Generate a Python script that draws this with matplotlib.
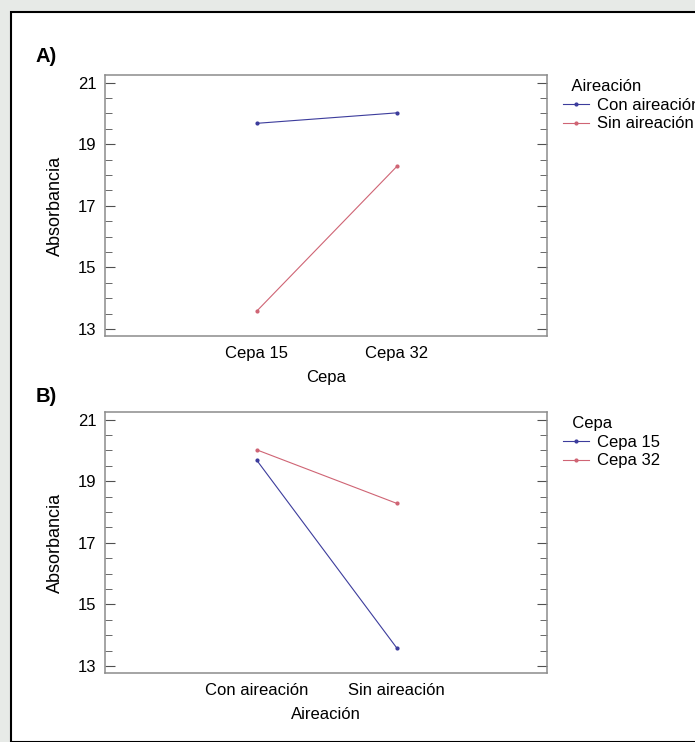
import matplotlib
matplotlib.use("Agg")
import matplotlib.pyplot as plt
from matplotlib.patches import Rectangle
from matplotlib.ticker import FixedLocator, MultipleLocator

plt.rcParams['font.family'] = ['Liberation Sans', 'DejaVu Sans']

# Mean absorbance for each combination of strain and aeration
cepas = ['Cepa 15', 'Cepa 32']
aireacion = ['Con aireación', 'Sin aireación']
con_aireacion = [19.68, 20.02]   # Cepa 15, Cepa 32
sin_aireacion = [13.58, 18.28]   # Cepa 15, Cepa 32
cepa_15 = [con_aireacion[0], sin_aireacion[0]]
cepa_32 = [con_aireacion[1], sin_aireacion[1]]
y_ticks = [13, 15, 17, 19, 21]

BLUE = '#3c3c9c'
RED = '#cf6474'
SPINE = '#8c8c8c'
FS = 12
W, H = 695, 742

fig = plt.figure(figsize=(W / 100, H / 100), dpi=100)
fig.patch.set_facecolor('#e7eae7')

# white page with a black frame, kept behind the axes
page = Rectangle((11 / W, 0), 1, 1 - 12 / H, transform=fig.transFigure,
                 facecolor='white', edgecolor='black', linewidth=1.5, zorder=-5)
fig.patches.append(page)


def panel(ax, cats, series, names, colors, xlabel, legend_title):
    x = [1, 2]
    for vals, name, c in zip(series, names, colors):
        ax.plot(x, vals, color=c, lw=0.8, marker='o', ms=2, label=name)
    ax.set_xlim(-0.084, 3.07)
    ax.set_ylim(12.77, 21.25)
    ax.set_xticks(x)
    ax.set_xticklabels(cats, fontsize=FS)
    ax.tick_params(axis='x', length=0, pad=7)
    ax.yaxis.set_major_locator(FixedLocator(y_ticks))
    ax.yaxis.set_minor_locator(MultipleLocator(0.5))
    ax.tick_params(axis='y', which='both', direction='in', left=True, right=True,
                   color='#505050', labelsize=FS, pad=6)
    ax.tick_params(axis='y', which='major', length=7)
    ax.tick_params(axis='y', which='minor', length=5)
    for s in ax.spines.values():
        s.set_color(SPINE)
        s.set_linewidth(1.1)
    ax.set_xlabel(xlabel, fontsize=FS, labelpad=7)
    ax.set_ylabel('Absorbancia', fontsize=13, labelpad=10)
    leg = ax.legend(title='  ' + legend_title, loc='upper left',
                    bbox_to_anchor=(1.022, 1.01), frameon=False, fontsize=FS,
                    title_fontsize=FS, handlelength=1.55, handletextpad=0.5,
                    labelspacing=0.22, borderaxespad=0, alignment='left')
    return leg


ax_a = fig.add_axes([105 / W, 1 - 336 / H, 441.7 / W, 261 / H])
panel(ax_a, cepas, [con_aireacion, sin_aireacion], aireacion, [BLUE, RED],
      'Cepa', 'Aireación')

ax_b = fig.add_axes([105 / W, 1 - 673 / H, 441.7 / W, 261 / H])
panel(ax_b, aireacion, [cepa_15, cepa_32], cepas, [BLUE, RED],
      'Aireación', 'Cepa')

fig.text(36 / W, 1 - 57 / H, 'A)', fontsize=14.5, fontweight='bold', va='center')
fig.text(36 / W, 1 - 396 / H, 'B)', fontsize=14.5, fontweight='bold', va='center')

fig.savefig('out.png', dpi=100)
